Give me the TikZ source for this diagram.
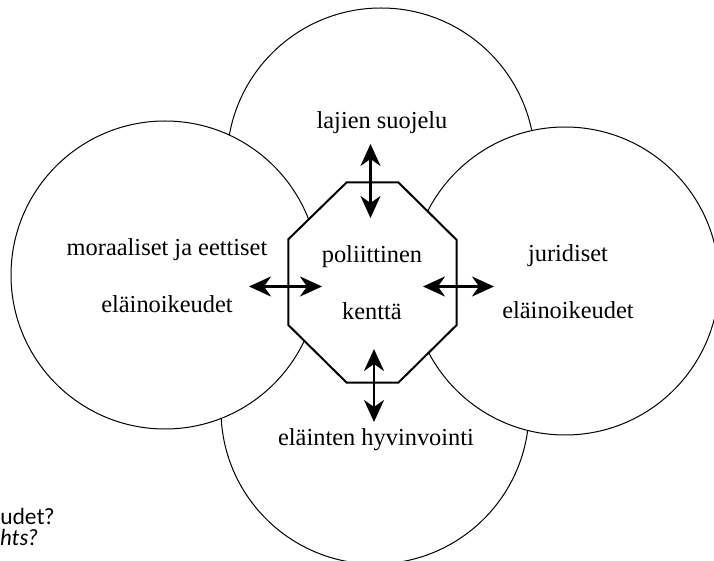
\documentclass[tikz,border=0pt]{standalone}
\usepackage{fontspec}
\setmainfont{Liberation Serif}
\newfontfamily\notefont{Lato}
\usetikzlibrary{arrows.meta}

\tikzset{
  ring/.style={circle, draw, fill=white, line width=0.5pt, minimum size=154pt, inner sep=0pt},
  area/.style={inner sep=0pt, align=center, font=\fontsize{12.2}{28.5}\selectfont},
  twoway/.style={<->, line width=1.4pt},
  note/.style={inner sep=0pt, anchor=base west, font=\notefont\fontsize{11}{11}\selectfont},
}

\begin{document}
\begin{tikzpicture}[x=0.5pt, y=-0.5pt, >={Stealth[length=11pt, width=10pt, inset=3.5pt]}]
    \useasboundingbox (0,0) rectangle (714,561);

    % the four fields
    \node [ring] (top) at (381,162) {};
    \node [ring] (bottom) at (375,410) {};
    \node [ring] (left) at (165,275) {};
    \node [ring] (right) at (565,281) {};

    % political field in the middle
    \draw [line width=1pt, fill=white] (346.7,182.3) -- (398.3,182.3) -- (456.7,240) -- (456.7,325)
        -- (398.3,382.7) -- (346.7,382.7) -- (288.3,325) -- (288.3,239.3) -- cycle;

    \node [area] (species) at (382,122.5) {lajien suojelu};
    \node [area] (moral) at (167,275.5) {moraaliset ja eettiset\\eläinoikeudet};
    \node [area] (field) at (372,283) {poliittinen\\kenttä};
    \node [area] (legal) at (568,282) {juridiset\\eläinoikeudet};
    \node [area] (welfare) at (376,440) {eläinten hyvinvointi};

    % arrow ends
    \coordinate (topout) at (370.5,144);
    \coordinate (topin) at (370.5,218);
    \coordinate (botin) at (374,349);
    \coordinate (botout) at (374,422);
    \coordinate (leftout) at (249,286.5);
    \coordinate (leftin) at (322,286.5);
    \coordinate (rightin) at (423,286.5);
    \coordinate (rightout) at (494,286.5);

    \draw [twoway] (topout) to (topin);
    \draw [twoway] (botin) to (botout);
    \draw [twoway] (leftout) to (leftin);
    \draw [twoway] (rightin) to (rightout);

    \node [note] (noteA) at (0,525) {udet?};
    \node [note] (noteB) at (0,546) {\itshape hts?};
\end{tikzpicture}
\end{document}
